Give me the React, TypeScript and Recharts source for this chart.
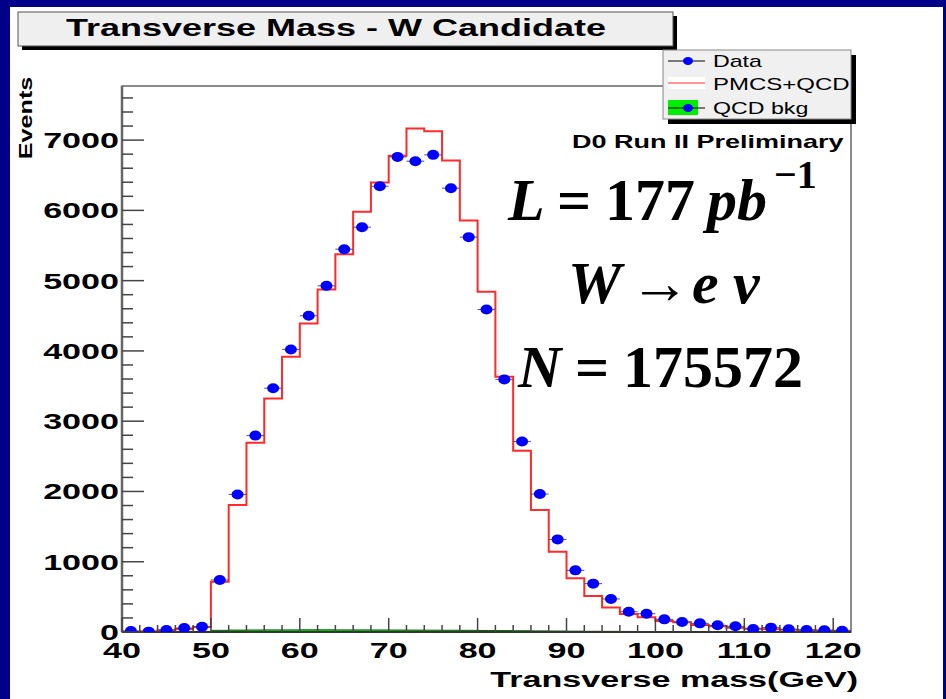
import React from 'react';
import { ComposedChart, Line, Area, Scatter, ErrorBar, XAxis, YAxis, ReferenceArea } from 'recharts';

// bins of 2 GeV from 40 to 122
const BIN_WIDTH = 2;
const binLow = [
  40, 42, 44, 46, 48, 50, 52, 54, 56, 58, 60, 62, 64, 66, 68, 70, 72, 74, 76, 78, 80,
  82, 84, 86, 88, 90, 92, 94, 96, 98, 100, 102, 104, 106, 108, 110, 112, 114, 116, 118, 120,
];

// PMCS+QCD prediction (red histogram)
const pmcsQcd = [
  5, 10, 24, 43, 71, 716, 1806, 2693, 3324, 3917, 4390, 4875, 5377, 5979, 6397, 6776, 7165, 7127, 6710, 5856, 4841,
  3632, 2579, 1735, 1142, 764, 512, 350, 256, 209, 156, 137, 100, 81, 62, 48, 40, 32, 26, 22, 18,
];

// measured events (blue points)
const dataCounts = [
  15, 5, 28, 57, 73, 740, 1958, 2795, 3470, 4021, 4500, 4926, 5448, 5761, 6344, 6761, 6700, 6790, 6316, 5619, 4590,
  3595, 2712, 1963, 1318, 877, 688, 470, 289, 260, 180, 142, 123, 95, 81, 43, 62, 38, 28, 24, 19,
];

// QCD background (green)
const qcdBkg = [
  0, 0, 0, 0, 0, 24, 27, 29, 30, 30, 31, 31, 30, 30, 29, 28, 27, 26, 25, 24, 22,
  20, 18, 16, 14, 12, 10, 9, 8, 7, 6, 5, 5, 4, 4, 3, 3, 3, 2, 2, 2,
];

const xMajorTicks = [40, 50, 60, 70, 80, 90, 100, 110, 120];
const yMajorTicks = [0, 1000, 2000, 3000, 4000, 5000, 6000, 7000];
const X_MIN = 40;
const X_MAX = 122;
const Y_MAX = 7770;

const xTicks = Array.from({ length: 41 }, (_, i) => 40 + i * 2);
const yTicks = Array.from({ length: 39 }, (_, i) => i * 200);

const stepData = (vals: number[]) =>
  binLow.map((lo, i) => ({ x: lo, y: vals[i] })).concat({ x: X_MAX, y: vals[vals.length - 1] });

const histData = stepData(pmcsQcd);
const qcdData = stepData(qcdBkg);
const pointData = binLow.map((lo, i) => ({ x: lo + BIN_WIDTH / 2, y: dataCounts[i], ex: BIN_WIDTH / 2 }));

const SANS = '"Liberation Sans", Arial, sans-serif';
const SERIF = '"Liberation Serif", "Times New Roman", serif';

const Wide = ({ x, y, size, scale = 1.5, anchor = 'start', weight = 'bold', children }: any) => (
  <text
    transform={`translate(${x},${y}) scale(${scale},1)`}
    fontFamily={SANS}
    fontSize={size}
    fontWeight={weight}
    textAnchor={anchor}
    fill="#000"
  >
    {children}
  </text>
);

const XTick = (props: any) => {
  const { x, y, payload } = props;
  const major = xMajorTicks.includes(payload.value);
  return (
    <g>
      <line x1={x} y1={y} x2={x} y2={y - (major ? 14 : 7)} stroke="#444" strokeWidth={1.5} />
      {major && (
        <Wide x={x} y={y + 26} size={22} scale={1.55} anchor="middle">
          {payload.value}
        </Wide>
      )}
    </g>
  );
};

const YTick = (props: any) => {
  const { x, y, payload } = props;
  const major = yMajorTicks.includes(payload.value);
  return (
    <g>
      <line x1={x} y1={y} x2={x + (major ? 22 : 11)} y2={y} stroke="#444" strokeWidth={1.5} />
      {major && (
        <Wide x={x - 3} y={y + 8} size={22} scale={1.55} anchor="end">
          {payload.value}
        </Wide>
      )}
    </g>
  );
};

const DataDot = (props: any) => <ellipse cx={props.cx} cy={props.cy} rx={6} ry={5} fill="#0000ff" />;

const Big = ({ x, y, italic, size = 60, children }: any) => (
  <text x={x} y={y} fontFamily={SERIF} fontSize={size} fontWeight="bold" fontStyle={italic ? 'italic' : 'normal'} fill="#000">
    {children}
  </text>
);

export default function App() {
  return (
    <div style={{ position: 'absolute', left: 0, top: 0, width: 946, height: 699, background: '#000088', overflow: 'hidden' }}>
      <div style={{ position: 'absolute', left: 10, top: 7, width: 933, height: 692, background: '#fff' }} />
      <div style={{ position: 'absolute', left: 0, top: 0 }}>
        <ComposedChart width={946} height={699} margin={{ top: 86, right: 95, bottom: 27, left: 12 }}>
          <XAxis
            dataKey="x"
            type="number"
            domain={[X_MIN, X_MAX]}
            ticks={xTicks}
            interval={0}
            allowDataOverflow
            tickLine={false}
            tickSize={0}
            tickMargin={0}
            height={40}
            axisLine={{ stroke: '#333', strokeWidth: 2 }}
            tick={<XTick />}
          />
          <YAxis
            type="number"
            domain={[0, Y_MAX]}
            ticks={yTicks}
            interval={0}
            allowDataOverflow
            tickLine={false}
            tickSize={0}
            tickMargin={0}
            width={110}
            axisLine={{ stroke: '#666', strokeWidth: 2.5 }}
            tick={<YTick />}
          />
          <ReferenceArea x1={X_MIN} x2={X_MAX} y1={0} y2={Y_MAX} fill="none" stroke="#666" strokeWidth={1.5} ifOverflow="visible" />
          <Area
            data={qcdData}
            dataKey="y"
            type="stepAfter"
            fill="#00ee00"
            fillOpacity={1}
            stroke="#006400"
            strokeWidth={1}
            isAnimationActive={false}
          />
          <Line
            data={histData}
            dataKey="y"
            type="stepAfter"
            stroke="#ff2a2a"
            strokeWidth={2}
            dot={false}
            activeDot={false}
            isAnimationActive={false}
          />
          <Scatter data={pointData} dataKey="y" shape={<DataDot />} isAnimationActive={false}>
            <ErrorBar dataKey="ex" direction="x" width={0} stroke="#555" strokeWidth={1} />
          </Scatter>
        </ComposedChart>
      </div>
      <svg width={946} height={699} style={{ position: 'absolute', left: 0, top: 0, pointerEvents: 'none' }}>
        {/* title box */}
        <rect x={22} y={16} width={655} height={34} fill="#000" />
        <rect x={18} y={12} width={655} height={34} fill="#efefef" stroke="#555" strokeWidth={1} />
        <Wide x={336} y={36} size={24} anchor="middle">
          Transverse Mass - W Candidate
        </Wide>

        {/* legend */}
        <rect x={668} y={55} width={188} height={69} fill="#000" />
        <rect x={663} y={50} width={188} height={69} fill="#f0f0f0" stroke="#888" strokeWidth={1} />
        <line x1={668} y1={61} x2={705} y2={61} stroke="#000" strokeWidth={1} />
        <ellipse cx={688} cy={61} rx={5} ry={4} fill="#0000ff" />
        <Wide x={713} y={67} size={16} weight="normal" scale={1.45}>Data</Wide>
        <rect x={668} y={77} width={37} height={12} fill="#fff" />
        <line x1={668} y1={83} x2={705} y2={83} stroke="#ff2a2a" strokeWidth={1} />
        <Wide x={713} y={90} size={16} weight="normal" scale={1.5}>PMCS+QCD</Wide>
        <rect x={668} y={100} width={30} height={15} fill="#00ee00" />
        <line x1={668} y1={108} x2={705} y2={108} stroke="#000" strokeWidth={1} />
        <ellipse cx={688} cy={108} rx={5} ry={4} fill="#0000ff" />
        <Wide x={713} y={114} size={16} weight="normal" scale={1.45}>QCD bkg</Wide>

        {/* axis titles */}
        <text
          transform="translate(32,118) rotate(-90) scale(1.4,1)"
          fontFamily={SANS}
          fontSize={18}
          fontWeight="bold"
          textAnchor="middle"
          fill="#000"
        >
          Events
        </text>
        <Wide x={858} y={687} size={22} scale={1.55} anchor="end">
          Transverse mass(GeV)
        </Wide>

        <Wide x={572} y={148} size={18}>
          D0 Run II Preliminary
        </Wide>

        {/* physics annotations */}
        <Big x={508} y={220} italic>L</Big>
        <Big x={557} y={220}>=</Big>
        <Big x={605} y={220}>177</Big>
        <Big x={707} y={220} italic>pb</Big>
        <Big x={774} y={188} size={40}>−1</Big>

        <Big x={568} y={303} italic>W</Big>
        <Big x={630} y={303}>→</Big>
        <Big x={692} y={303} italic>e</Big>
        <Big x={733} y={303} italic>ν</Big>

        <Big x={518} y={387} italic>N</Big>
        <Big x={575} y={387}>=</Big>
        <Big x={623} y={387}>175572</Big>
      </svg>
    </div>
  );
}
